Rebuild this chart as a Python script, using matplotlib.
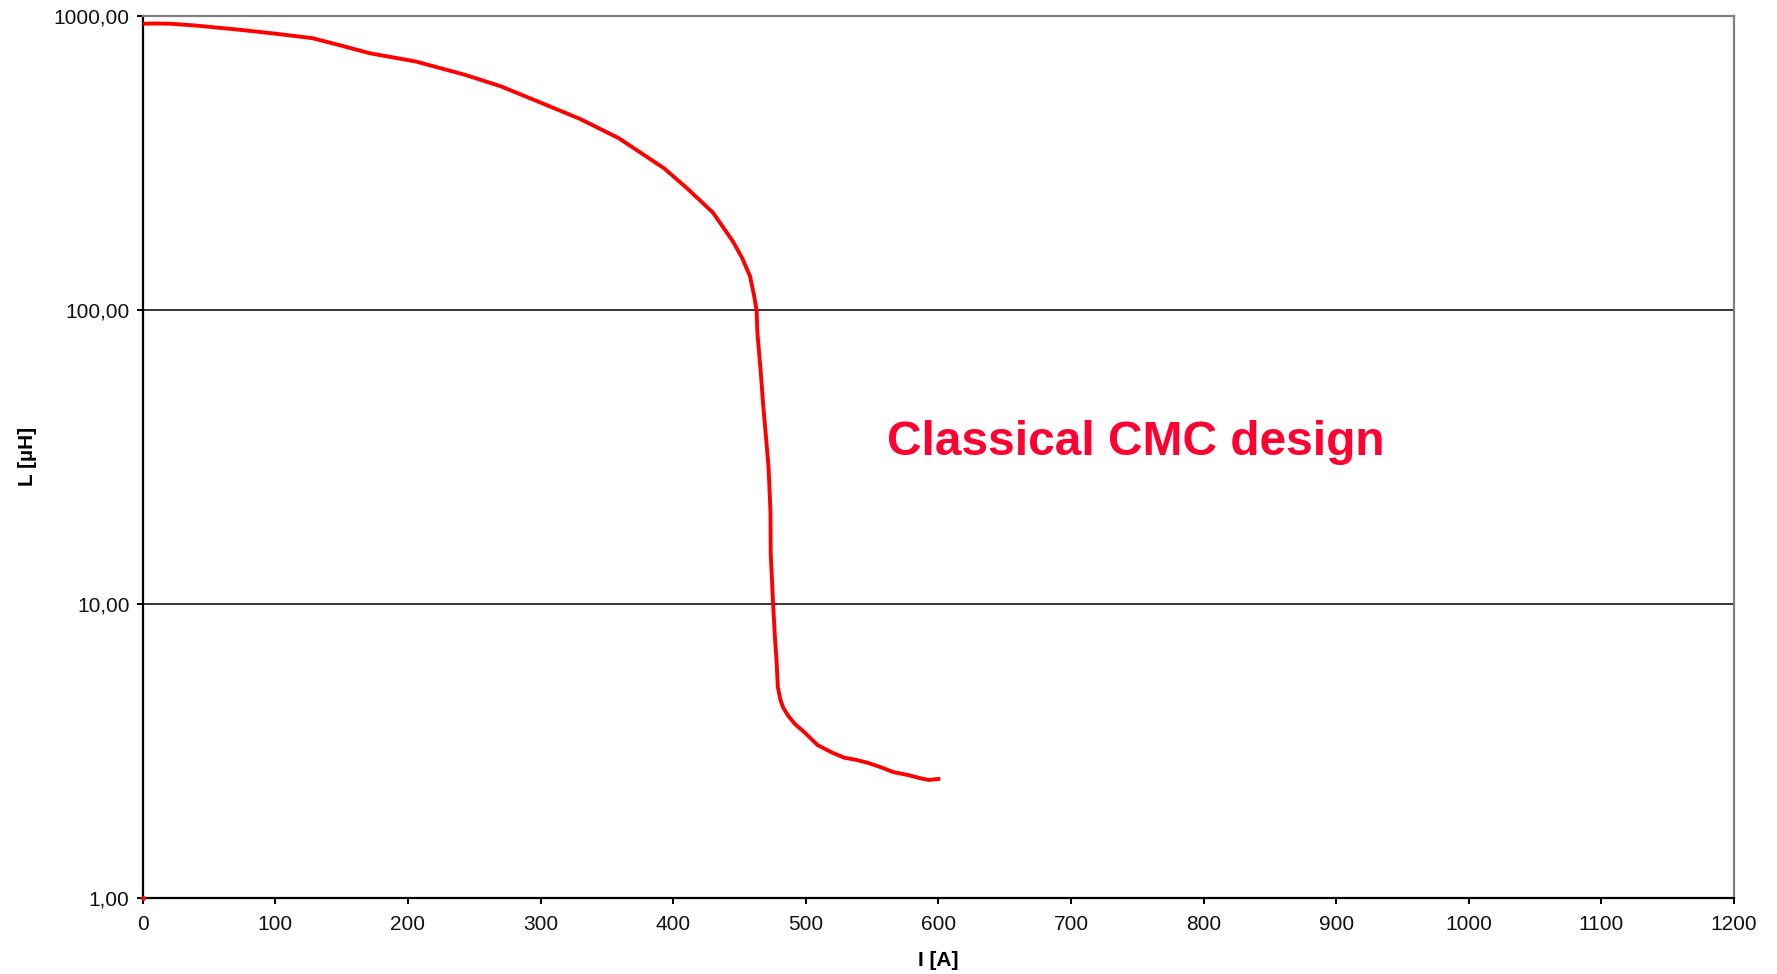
import matplotlib
matplotlib.use("Agg")
import matplotlib.pyplot as plt
from matplotlib.ticker import FixedLocator, FuncFormatter

plt.rcParams['font.family'] = ['Liberation Sans', 'DejaVu Sans']

# Strom I [A] und Induktivitaet L [uH]
strom = [0, 10, 21, 40, 73, 100, 128, 150, 171, 206, 243, 270, 301, 330, 359,
         393, 410, 430, 445, 452, 458, 461, 463, 463.5, 466, 468, 470, 472,
         473.4, 473.6, 475.4, 476.7, 478, 479, 481, 483, 487, 492, 499, 509,
         520, 529, 538, 547, 557, 566, 577, 587, 593, 600]
induktivitaet = [938, 940, 938, 925, 895, 868, 838, 790, 745, 698, 629, 575,
                 504, 445, 383, 303, 260, 214, 171, 150, 130, 112, 99, 84, 62,
                 47, 37, 29, 20.6, 14.8, 10, 7.8, 6.4, 5.2, 4.7, 4.44, 4.15,
                 3.9, 3.66, 3.31, 3.12, 3.0, 2.95, 2.88, 2.78, 2.68, 2.62, 2.55,
                 2.52, 2.54]

x_ticks = list(range(0, 1300, 100))
y_ticks = [1, 10, 100, 1000]

fig = plt.figure(figsize=(17.77, 9.74), dpi=100)
ax = fig.add_axes([0.0803, 0.078, 0.8955, 0.906])

ax.plot(strom, induktivitaet, color='#FF0000', linewidth=2.8, zorder=3)
# einzelner Punkt im Ursprung
ax.plot([0], [1], 'o', color='#FF0000', markersize=2.5, clip_on=False, zorder=4)

ax.set_yscale('log')
ax.set_xlim(0, 1200)
ax.set_ylim(1, 1000)

ax.xaxis.set_major_locator(FixedLocator(x_ticks))
ax.yaxis.set_major_locator(FixedLocator(y_ticks))
ax.yaxis.set_minor_locator(FixedLocator([]))
ax.yaxis.set_major_formatter(FuncFormatter(lambda v, p: f"{v:.2f}".replace('.', ',')))

ax.grid(True, axis='y', which='major', color='black', linewidth=1.1)
ax.set_axisbelow(True)

for s in ['left', 'bottom']:
    ax.spines[s].set_color('black')
    ax.spines[s].set_linewidth(1.6)
for s in ['top', 'right']:
    ax.spines[s].set_color('#808080')
    ax.spines[s].set_linewidth(1.6)

ax.tick_params(axis='both', which='major', direction='out', length=4.5, width=1.4,
               labelsize=15, colors='black', labelcolor='#111111')
ax.tick_params(axis='x', pad=8)
ax.tick_params(axis='y', pad=5)

ax.set_xlabel('I [A]', fontsize=15, fontweight='bold', labelpad=12)
ax.set_ylabel('L [µH]', fontsize=15, fontweight='bold', labelpad=12)

ax.text(749, 35.5, 'Classical CMC design', color='#FF0030', fontsize=34.5,
        fontweight='bold', ha='center', va='center')

fig.savefig('out.png', dpi=100)
